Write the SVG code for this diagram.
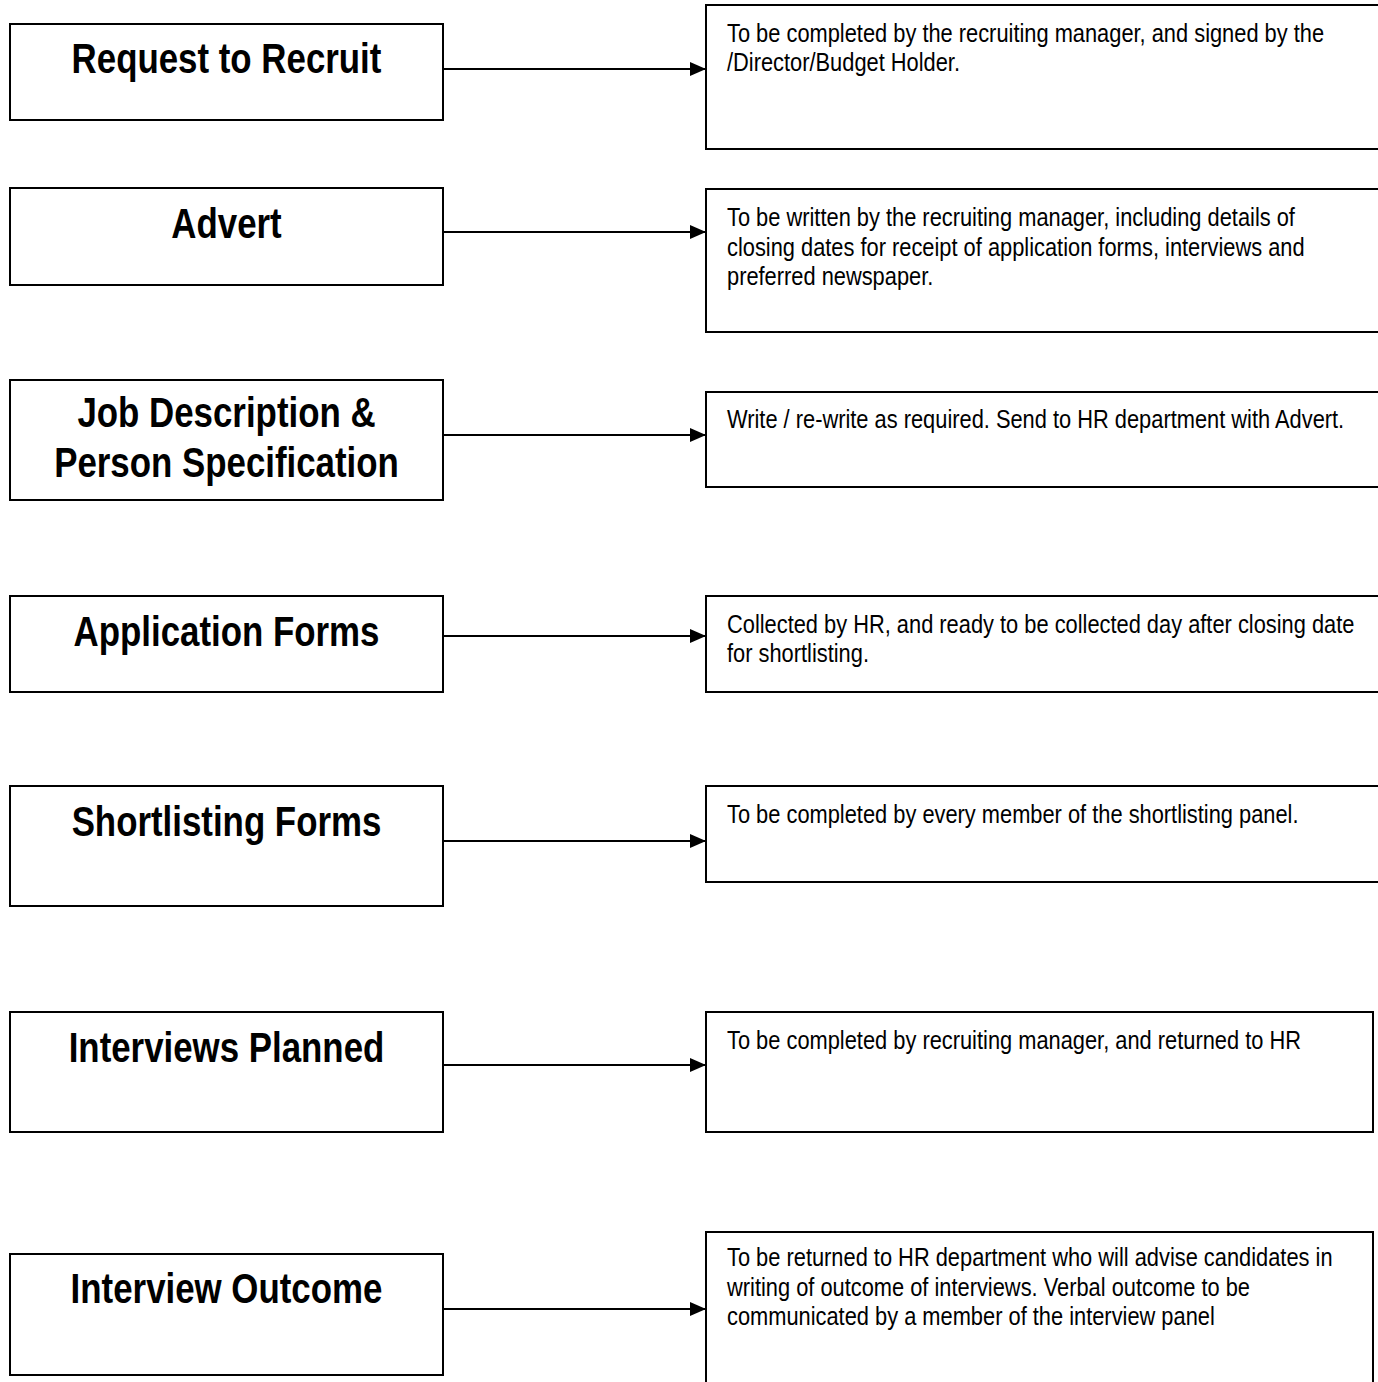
<svg xmlns="http://www.w3.org/2000/svg" width="1378" height="1382" viewBox="0 0 1378 1382">
<style>
.box{fill:#fff;stroke:#000;stroke-width:2}
.title{font-family:"Liberation Sans",Arial,sans-serif;font-weight:bold;font-size:42px;text-anchor:middle;fill:#000}
.desc{font-family:"Liberation Sans",Arial,sans-serif;font-size:26px;fill:#000}
.conn{stroke:#000;stroke-width:2;fill:none}
</style>
<defs>
<marker id="arr" markerWidth="16" markerHeight="14" refX="16" refY="7" orient="auto" markerUnits="userSpaceOnUse">
<path d="M0,0 L16,7 L0,14 Z" fill="#000"/>
</marker>
</defs>
<rect width="1378" height="1382" fill="#fff"/>
<g id="n1"><rect class="box" x="10" y="24" width="433" height="96"/><text class="title" transform="translate(226.5,73) scale(0.83,1)">Request to Recruit</text></g>
<g id="n2"><rect class="box" x="10" y="188" width="433" height="97"/><text class="title" transform="translate(226.5,238) scale(0.83,1)">Advert</text></g>
<g id="n3"><rect class="box" x="10" y="380" width="433" height="120"/><text class="title" transform="translate(226.5,427) scale(0.83,1)">Job Description &amp;</text><text class="title" transform="translate(226.5,477) scale(0.83,1)">Person Specification</text></g>
<g id="n4"><rect class="box" x="10" y="596" width="433" height="96"/><text class="title" transform="translate(226.5,646) scale(0.83,1)">Application Forms</text></g>
<g id="n5"><rect class="box" x="10" y="786" width="433" height="120"/><text class="title" transform="translate(226.5,836) scale(0.83,1)">Shortlisting Forms</text></g>
<g id="n6"><rect class="box" x="10" y="1012" width="433" height="120"/><text class="title" transform="translate(226.5,1062) scale(0.83,1)">Interviews Planned</text></g>
<g id="n7"><rect class="box" x="10" y="1254" width="433" height="121"/><text class="title" transform="translate(226.5,1303) scale(0.83,1)">Interview Outcome</text></g>
<g id="d1"><rect class="box" x="706" y="5" width="690" height="144"/><text class="desc" transform="translate(727,42) scale(0.84,1)">To be completed by the recruiting manager, and signed by the</text><text class="desc" transform="translate(727,71) scale(0.84,1)">/Director/Budget Holder.</text></g>
<g id="d2"><rect class="box" x="706" y="189" width="690" height="143"/><text class="desc" transform="translate(727,226) scale(0.84,1)">To be written by the recruiting manager, including details of</text><text class="desc" transform="translate(727,255.5) scale(0.84,1)">closing dates for receipt of application forms, interviews and</text><text class="desc" transform="translate(727,285) scale(0.84,1)">preferred newspaper.</text></g>
<g id="d3"><rect class="box" x="706" y="392" width="690" height="95"/><text class="desc" transform="translate(727,428) scale(0.84,1)">Write / re-write as required. Send to HR department with Advert.</text></g>
<g id="d4"><rect class="box" x="706" y="596" width="690" height="96"/><text class="desc" transform="translate(727,633) scale(0.84,1)">Collected by HR, and ready to be collected day after closing date</text><text class="desc" transform="translate(727,662) scale(0.84,1)">for shortlisting.</text></g>
<g id="d5"><rect class="box" x="706" y="786" width="690" height="96"/><text class="desc" transform="translate(727,823) scale(0.84,1)">To be completed by every member of the shortlisting panel.</text></g>
<g id="d6"><rect class="box" x="706" y="1012" width="667" height="120"/><text class="desc" transform="translate(727,1049) scale(0.84,1)">To be completed by recruiting manager, and returned to HR</text></g>
<g id="d7"><rect class="box" x="706" y="1232" width="667" height="180"/><text class="desc" transform="translate(727,1266) scale(0.84,1)">To be returned to HR department who will advise candidates in</text><text class="desc" transform="translate(727,1295.5) scale(0.84,1)">writing of outcome of interviews. Verbal outcome to be</text><text class="desc" transform="translate(727,1325) scale(0.84,1)">communicated by a member of the interview panel</text></g>
<g id="connectors">
<line class="conn" x1="443" y1="69" x2="706" y2="69" marker-end="url(#arr)"/>
<line class="conn" x1="443" y1="232" x2="706" y2="232" marker-end="url(#arr)"/>
<line class="conn" x1="443" y1="435" x2="706" y2="435" marker-end="url(#arr)"/>
<line class="conn" x1="443" y1="636" x2="706" y2="636" marker-end="url(#arr)"/>
<line class="conn" x1="443" y1="841" x2="706" y2="841" marker-end="url(#arr)"/>
<line class="conn" x1="443" y1="1065" x2="706" y2="1065" marker-end="url(#arr)"/>
<line class="conn" x1="443" y1="1309" x2="706" y2="1309" marker-end="url(#arr)"/>
</g>
</svg>
